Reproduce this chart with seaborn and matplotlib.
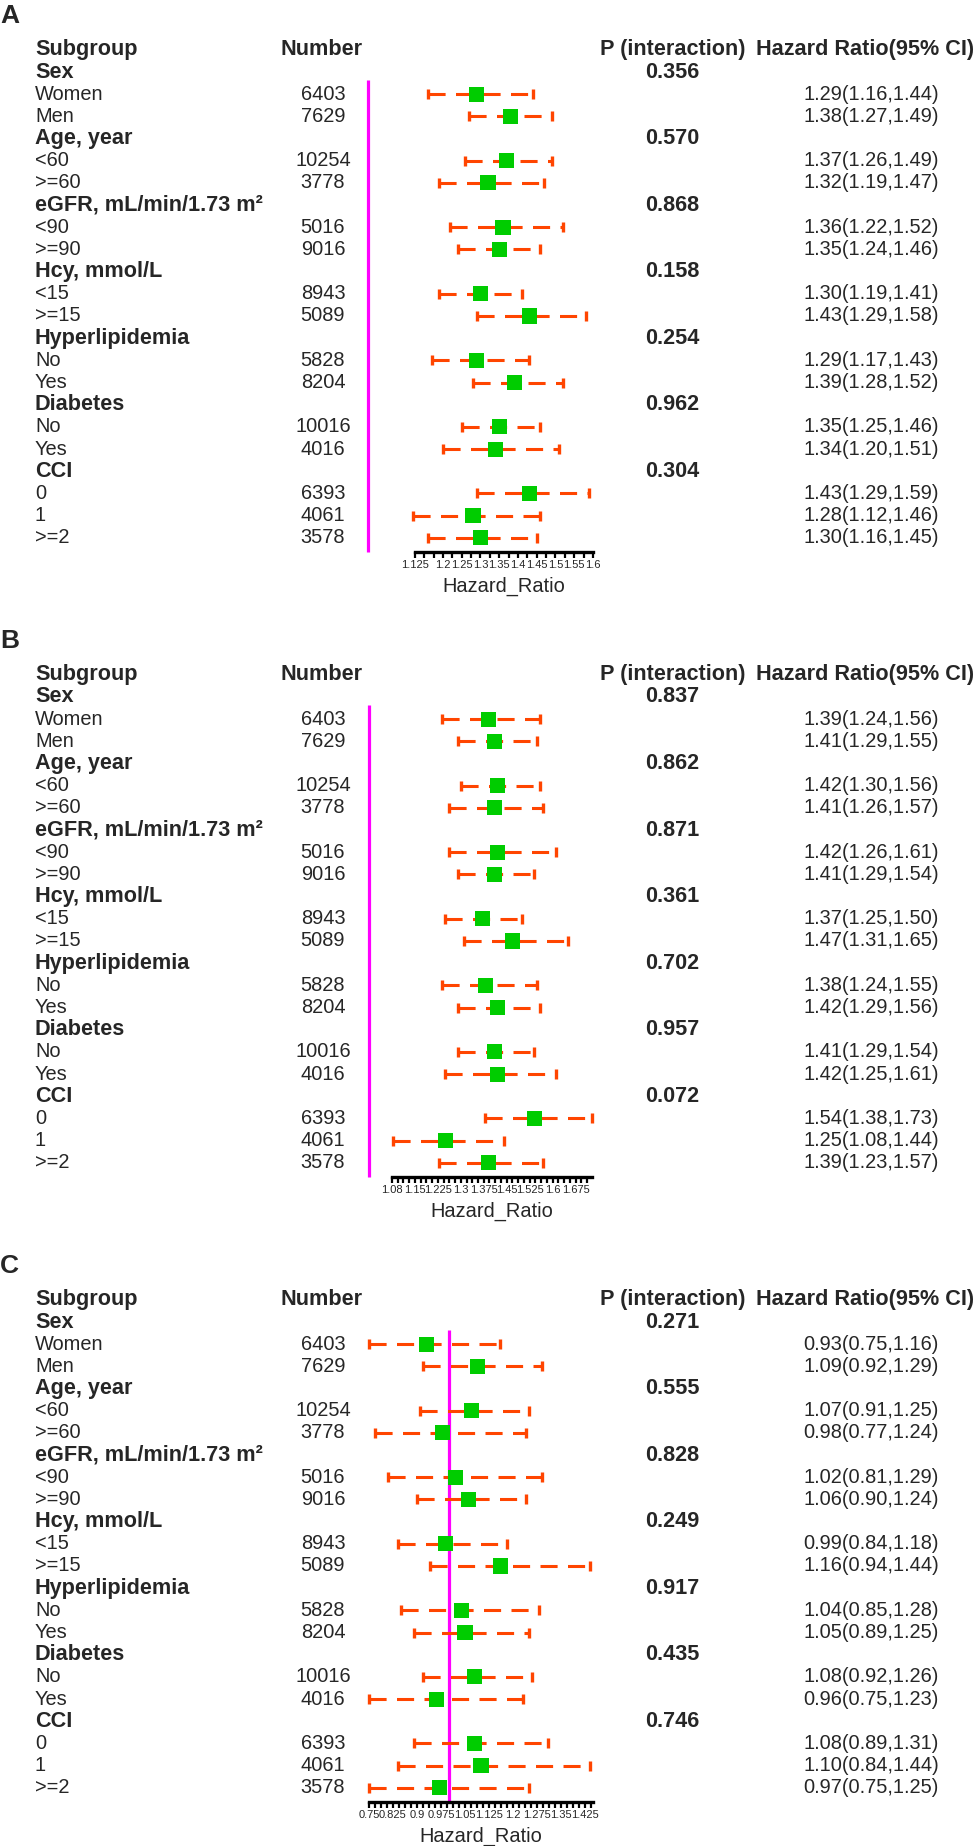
import numpy as np
import pandas as pd
import matplotlib
matplotlib.use("Agg")
import matplotlib.pyplot as plt
import matplotlib.transforms as mtransforms
import seaborn as sns

sns.set_style("white")
plt.rcParams['font.family'] = ['Liberation Sans', 'DejaVu Sans']

# ---- table rows (shared by all three panels) ----
subgroups = ["Sex", "Women", "Men",
             "Age, year", "<60", ">=60",
             "eGFR, mL/min/1.73 m\u00b2", "<90", ">=90",
             "Hcy, mmol/L", "<15", ">=15",
             "Hyperlipidemia", "No", "Yes",
             "Diabetes", "No", "Yes",
             "CCI", "0", "1", ">=2"]
is_group = [s in ("Sex", "Age, year", "eGFR, mL/min/1.73 m\u00b2", "Hcy, mmol/L",
                  "Hyperlipidemia", "Diabetes", "CCI") for s in subgroups]
numbers = ["", "6403", "7629", "", "10254", "3778", "", "5016", "9016",
           "", "8943", "5089", "", "5828", "8204", "", "10016", "4016",
           "", "6393", "4061", "3578"]

# ---- panel A ----
p_a = ["0.356", "0.570", "0.868", "0.158", "0.254", "0.962", "0.304"]
hr_a = [1.29, 1.38, 1.37, 1.32, 1.36, 1.35, 1.30, 1.43, 1.29, 1.39, 1.35, 1.34, 1.43, 1.28, 1.30]
lo_a = [1.16, 1.27, 1.26, 1.19, 1.22, 1.24, 1.19, 1.29, 1.17, 1.28, 1.25, 1.20, 1.29, 1.12, 1.16]
hi_a = [1.44, 1.49, 1.49, 1.47, 1.52, 1.46, 1.41, 1.58, 1.43, 1.52, 1.46, 1.51, 1.59, 1.46, 1.45]
ticks_a = [1.125, 1.2, 1.25, 1.3, 1.35, 1.4, 1.45, 1.5, 1.55, 1.6]
ticklab_a = ["1.125", "1.2", "1.25", "1.3", "1.35", "1.4", "1.45", "1.5", "1.55", "1.6"]

# ---- panel B ----
p_b = ["0.837", "0.862", "0.871", "0.361", "0.702", "0.957", "0.072"]
hr_b = [1.39, 1.41, 1.42, 1.41, 1.42, 1.41, 1.37, 1.47, 1.38, 1.42, 1.41, 1.42, 1.54, 1.25, 1.39]
lo_b = [1.24, 1.29, 1.30, 1.26, 1.26, 1.29, 1.25, 1.31, 1.24, 1.29, 1.29, 1.25, 1.38, 1.08, 1.23]
hi_b = [1.56, 1.55, 1.56, 1.57, 1.61, 1.54, 1.50, 1.65, 1.55, 1.56, 1.54, 1.61, 1.73, 1.44, 1.57]
ticks_b = [1.075, 1.15, 1.225, 1.3, 1.375, 1.45, 1.525, 1.6, 1.675]
ticklab_b = ["1.08", "1.15", "1.225", "1.3", "1.375", "1.45", "1.525", "1.6", "1.675"]

# ---- panel C ----
p_c = ["0.271", "0.555", "0.828", "0.249", "0.917", "0.435", "0.746"]
hr_c = [0.93, 1.09, 1.07, 0.98, 1.02, 1.06, 0.99, 1.16, 1.04, 1.05, 1.08, 0.96, 1.08, 1.10, 0.97]
lo_c = [0.75, 0.92, 0.91, 0.77, 0.81, 0.90, 0.84, 0.94, 0.85, 0.89, 0.92, 0.75, 0.89, 0.84, 0.75]
hi_c = [1.16, 1.29, 1.25, 1.24, 1.29, 1.24, 1.18, 1.44, 1.28, 1.25, 1.26, 1.23, 1.31, 1.44, 1.25]
ticks_c = [0.75, 0.825, 0.9, 0.975, 1.05, 1.125, 1.2, 1.275, 1.35, 1.425]
ticklab_c = ["0.75", "0.825", "0.9", "0.975", "1.05", "1.125", "1.2", "1.275", "1.35", "1.425"]

# layout: panel top (px), pixel of HR=1, pixels per unit, axis range, minor step
panels = [
    dict(name="A", top=0, ref=368, ppu=375, rng=(1.125, 1.6), step=0.025,
         p=p_a, hr=hr_a, lo=lo_a, hi=hi_a, ticks=ticks_a, labs=ticklab_a),
    dict(name="B", top=625, ref=369, ppu=306, rng=(1.075, 1.73), step=0.01875,
         p=p_b, hr=hr_b, lo=lo_b, hi=hi_b, ticks=ticks_b, labs=ticklab_b),
    dict(name="C", top=1250, ref=449, ppu=320, rng=(0.75, 1.45), step=0.01875,
         p=p_c, hr=hr_c, lo=lo_c, hi=hi_c, ticks=ticks_c, labs=ticklab_c),
]

W, H = 978, 1846
fig = plt.figure(figsize=(W / 100, H / 100), dpi=100)

ROW0, ROWH = 72, 22.18      # local px of first row, row pitch
PANEL_H = 596
AX_L, AX_R = 300, 620
ORANGE = "#FF4500"
GREEN = "#00CC00"
FS, FS_B = 14.4, 15.6

data_rows = [i for i, g in enumerate(is_group) if not g]
group_rows = [i for i, g in enumerate(is_group) if g]

for pn in panels:
    ax = fig.add_axes([AX_L / W, 1 - (pn["top"] + PANEL_H) / H,
                       (AX_R - AX_L) / W, PANEL_H / H])
    ax.set_xlim(1 - (pn["ref"] - AX_L) / pn["ppu"], 1 + (AX_R - pn["ref"]) / pn["ppu"])
    ax.set_ylim((PANEL_H - ROW0) / ROWH, -ROW0 / ROWH)
    ax.set_facecolor("none")
    for s in ["top", "left", "right"]:
        ax.spines[s].set_visible(False)
    ax.set_yticks([])

    df = pd.DataFrame({"row": data_rows, "hr": pn["hr"], "lo": pn["lo"], "hi": pn["hi"]})

    # reference line
    ax.vlines(1.0, 0.38, 21.66, color="magenta", lw=2.3, zorder=2)

    # CI lines + caps
    ax.hlines(df["row"], df["lo"], df["hi"], color=ORANGE, lw=2.2,
              linestyles=(0, (5.6, 3.4)), zorder=3)
    ax.plot(df["lo"], df["row"], ls="none", marker="|", ms=6.5, mew=2.4, color=ORANGE, zorder=3)
    ax.plot(df["hi"], df["row"], ls="none", marker="|", ms=6.5, mew=2.4, color=ORANGE, zorder=3)
    sns.scatterplot(data=df, x="hr", y="row", marker="s", s=118, color=GREEN,
                    edgecolor="none", ax=ax, zorder=4, legend=False)

    # x axis
    lo_r, hi_r = pn["rng"]
    ax.spines["bottom"].set_position(("data", 21.64))
    ax.spines["bottom"].set_bounds(lo_r, hi_r)
    ax.spines["bottom"].set_linewidth(2.4)
    ax.spines["bottom"].set_color("black")
    ax.set_xticks(pn["ticks"])
    ax.set_xticklabels(pn["labs"], fontsize=8)
    ax.set_xticks(np.arange(lo_r, hi_r + 1e-9, pn["step"]), minor=True)
    ax.tick_params(axis="x", which="both", bottom=True, direction="out", length=4.5,
                   width=1.6, pad=1.5, color="black")
    ax.set_xlabel("")
    ax.set_ylabel("")
    ax.text((lo_r + hi_r) / 2, 23.17, "Hazard_Ratio", ha="center", va="center",
            fontsize=FS, clip_on=False)

    # text columns
    tr = mtransforms.blended_transform_factory(fig.transFigure, ax.transData)
    fx = lambda px: px / W
    ax.text(fx(35), -1, "Subgroup", transform=tr, ha="left", va="center",
            fontsize=FS_B, fontweight="bold")
    ax.text(fx(322), -1, "Number", transform=tr, ha="center", va="center",
            fontsize=FS_B, fontweight="bold")
    ax.text(fx(673), -1, "P (interaction)", transform=tr, ha="center", va="center",
            fontsize=FS_B, fontweight="bold")
    ax.text(fx(865), -1, "Hazard Ratio(95% CI)", transform=tr, ha="center", va="center",
            fontsize=FS_B, fontweight="bold")
    for i, lab in enumerate(subgroups):
        ax.text(fx(35), i, lab, transform=tr, ha="left", va="center",
                fontsize=FS_B if is_group[i] else FS,
                fontweight="bold" if is_group[i] else "normal")
        if numbers[i]:
            ax.text(fx(323), i, numbers[i], transform=tr, ha="center", va="center", fontsize=FS)
    for r, p in zip(group_rows, pn["p"]):
        ax.text(fx(672), r, p, transform=tr, ha="center", va="center",
                fontsize=FS_B, fontweight="bold")
    for r, h, l, u in zip(data_rows, pn["hr"], pn["lo"], pn["hi"]):
        ax.text(fx(871), r, f"{h:.2f}({l:.2f},{u:.2f})", transform=tr,
                ha="center", va="center", fontsize=FS)

    fig.text(0.0, 1 - (pn["top"] + 16) / H, pn["name"], ha="left", va="center",
             fontsize=19, fontweight="bold")

fig.savefig("out.png", dpi=100)
